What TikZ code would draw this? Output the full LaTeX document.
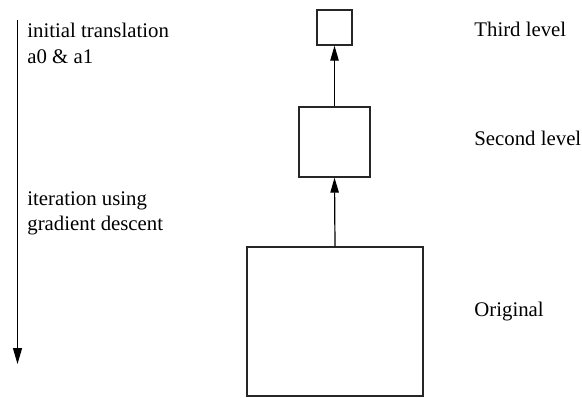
\documentclass[tikz,border=0pt]{standalone}
\usepackage{fontspec}
\setmainfont{Liberation Serif}
\usetikzlibrary{arrows.meta}
\begin{document}
\begin{tikzpicture}[x=0.5pt,y=-0.5pt,
  level/.style={draw=black!85,line width=0.65pt,fill=white,inner sep=0pt},
  lbl/.style={anchor=base west,inner sep=0pt,font=\fontsize{10.4}{12.5}\selectfont},
  up/.style={line width=0.6pt,-{Triangle[length=7.5pt,width=4.2pt]}},
  timeline/.style={line width=0.6pt,-{Triangle[length=8pt,width=4.5pt]}}]
  \useasboundingbox (0,0) rectangle (582,397);

  % pyramid levels
  \node[level,minimum width=88pt,minimum height=74.5pt] (orig) at (335,321.5) {};
  \node[level,minimum width=35.5pt,minimum height=35pt] (second) at (334.5,142) {};
  \node[level,minimum width=17.5pt,minimum height=17.5pt] (third) at (334.5,27.5) {};

  \draw[up] (orig.north) -- (second.south);
  \draw[up] (second.north) -- (third.south);

  % level labels
  \node[lbl] (lthird) at (474,36.7) {Third level};
  \node[lbl] (lsecond) at (474,145) {Second level};
  \node[lbl] (lorig) at (474,316.7) {Original};

  % processing order
  \coordinate (tstart) at (17.5,20);
  \coordinate (tend) at (17.5,364);
  \draw[timeline] (tstart) -- (tend);

  \node[lbl] (init1) at (27,37.5) {initial translation};
  \node[lbl] (init2) at (27,63) {a0 \& a1};
  \node[lbl] (iter1) at (27,205) {iteration using};
  \node[lbl] (iter2) at (27,230.5) {gradient descent};
\end{tikzpicture}
\end{document}
